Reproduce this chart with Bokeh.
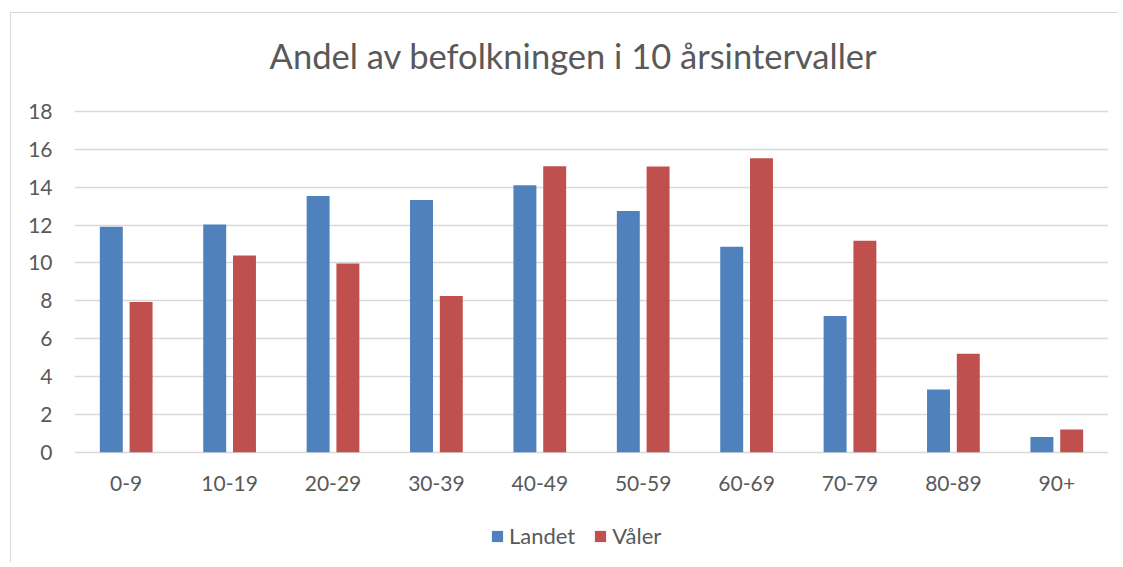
from bokeh.plotting import figure
from bokeh.models import (ColumnDataSource, FactorRange, Range1d, FixedTicker,
                          Legend, LegendItem, Label)
from bokeh.core.properties import value
from bokeh.transform import dodge
from bokeh.embed import file_html
from bokeh.resources import INLINE

categories = ["0-9", "10-19", "20-29", "30-39", "40-49", "50-59", "60-69", "70-79", "80-89", "90+"]
landet = [11.91, 12.03, 13.54, 13.33, 14.11, 12.75, 10.85, 7.20, 3.31, 0.81]
valer = [7.94, 10.39, 9.97, 8.26, 15.11, 15.09, 15.53, 11.17, 5.20, 1.20]
y_ticks = [0, 2, 4, 6, 8, 10, 12, 14, 16, 18]
series_names = ["Landet", "Våler"]
title_text = "Andel av befolkningen i 10 årsintervaller"

BLUE = "#4F81BD"
RED = "#C0504D"
TXT = "#595959"
GRID = "#D9D9D9"
FONT = "Lato"

# layout constants (vertical space above/below the value axis, in axis units)
Y_LOW, Y_HIGH = -5.88, 23.18
XLABEL_Y = -1.65

src = ColumnDataSource(dict(cat=categories, landet=landet, valer=valer,
                            label_y=[XLABEL_Y] * len(categories)))

p = figure(x_range=FactorRange(*categories), y_range=Range1d(Y_LOW, Y_HIGH),
           width=1108, height=550, output_backend="svg", toolbar_location=None,
           x_axis_location=None,
           min_border_left=63, min_border_right=11, min_border_top=0, min_border_bottom=0)
p.margin = (12, 0, 0, 10)
p.styles = {"border-left": "1px solid #D9D9D9", "border-top": "1px solid #D9D9D9"}
p.outline_line_color = None
p.background_fill_color = "white"
p.border_fill_color = "white"

r1 = p.vbar(x=dodge("cat", -0.144, range=p.x_range), top="landet", width=0.222,
            source=src, fill_color=BLUE, line_color=None)
r2 = p.vbar(x=dodge("cat", 0.144, range=p.x_range), top="valer", width=0.222,
            source=src, fill_color=RED, line_color=None)

# category labels under the bars
p.text(x="cat", y="label_y", text="cat", source=src, text_font=value(FONT),
       text_font_size="21px", text_color=TXT, text_align="center", text_baseline="middle")

p.yaxis.ticker = FixedTicker(ticks=y_ticks)
p.ygrid.ticker = FixedTicker(ticks=y_ticks)
p.ygrid.grid_line_color = GRID
p.ygrid.grid_line_width = 1.4
p.xgrid.grid_line_color = None

ax = p.yaxis[0]
ax.axis_line_color = None
ax.major_tick_line_color = None
ax.minor_tick_line_color = None
ax.major_tick_in = 0
ax.major_tick_out = 0
ax.major_label_text_font = FONT
ax.major_label_text_font_size = "21px"
ax.major_label_text_color = TXT
ax.major_label_standoff = 22

title = Label(x=499, y=508, x_units="screen", y_units="screen", text=title_text,
              text_font=FONT, text_font_size="34.5px", text_color=TXT,
              text_align="center", text_baseline="middle")
p.add_layout(title)

legend = Legend(items=[LegendItem(label=series_names[0], renderers=[r1]),
                       LegendItem(label=series_names[1], renderers=[r2])],
                location=(416, 14), orientation="horizontal",
                label_text_font=FONT, label_text_font_size="22px", label_text_color=TXT,
                glyph_width=14, glyph_height=14, label_height=24, label_standoff=5, spacing=18,
                padding=0, margin=0, border_line_color=None, background_fill_alpha=0)
p.add_layout(legend, "center")

open("out.html", "w").write(file_html(p, INLINE))
